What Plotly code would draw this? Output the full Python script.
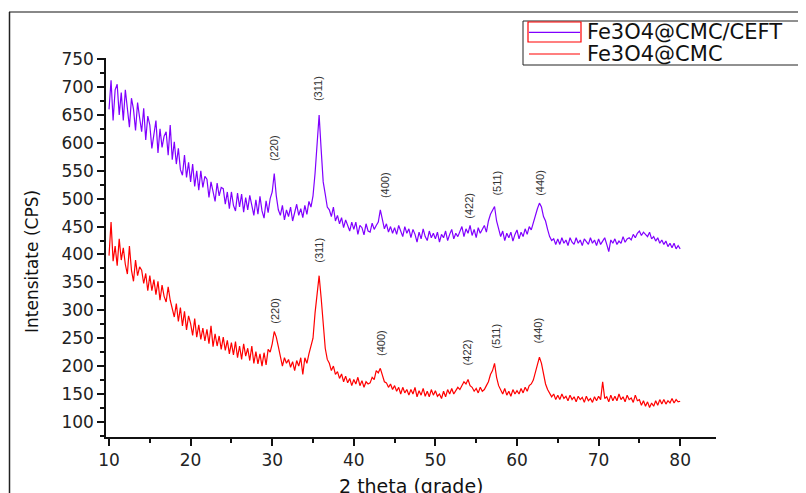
import plotly.graph_objects as go

# 2-theta grid (0.25 deg steps, 10..80)
two_theta = [round(10 + 0.25 * i, 2) for i in range(281)]

# Fe3O4@CMC/CEFT intensities (CPS)
cmc_ceft = [
    660, 712, 640, 695, 705, 650, 690, 640, 695, 662, 628, 680, 660, 622, 672, 645,
    620, 662, 605, 648, 632, 590, 615, 640, 582, 625, 592, 612, 620, 578, 632, 570,
    602, 562, 590, 552, 542, 578, 538, 565, 530, 562, 522, 550, 515, 550, 520, 540,
    535, 502, 530, 512, 495, 528, 505, 520, 518, 490, 512, 482, 512, 488, 478, 510,
    485, 508, 476, 502, 480, 506, 484, 470, 498, 472, 504, 478, 465, 496, 475, 500,
    512, 545, 505, 480, 470, 488, 462, 480, 468, 485, 460, 478, 490, 470, 482, 466,
    488, 472, 495, 485, 505, 545, 605, 650, 588, 530, 508, 485, 480, 468, 485, 460,
    470, 455, 466, 448, 462, 450, 442, 458, 445, 458, 436, 452, 448, 435, 455, 442,
    440, 456, 445, 452, 458, 480, 462, 446, 455, 440, 450, 438, 448, 436, 452, 440,
    432, 450, 438, 446, 430, 445, 436, 422, 440, 428, 446, 432, 425, 442, 430, 438,
    428, 440, 422, 436, 430, 442, 425, 436, 445, 428, 438, 432, 440, 450, 432, 446,
    438, 452, 434, 445, 430, 448, 438, 444, 452, 440, 460, 472, 480, 486, 460, 446,
    432, 442, 425, 438, 430, 440, 424, 436, 444, 428, 440, 432, 446, 436, 450, 444,
    458, 472, 482, 492, 485, 468, 460, 445, 432, 425, 428, 418, 428, 418, 430, 420,
    426, 416, 430, 422, 418, 430, 420, 426, 416, 428, 422, 418, 430, 420, 426, 416,
    428, 418, 424, 430, 418, 405, 426, 420, 428, 418, 424, 420, 432, 422, 428, 430,
    426, 436, 430, 438, 442, 434, 440, 436, 432, 440, 428, 432, 424, 430, 420, 426,
    418, 424, 414, 420, 412, 420, 410, 416, 410,
]

# Fe3O4@CMC intensities (CPS)
cmc = [
    398, 458, 388, 415, 380, 428, 390, 412, 382, 365, 415, 372, 352, 390, 362, 378,
    372, 348, 366, 335, 362, 335, 355, 328, 352, 318, 345, 325, 315, 342, 318, 300,
    288, 312, 280, 305, 272, 298, 265, 290, 276, 255, 285, 252, 274, 248, 268, 245,
    266, 240, 272, 235, 258, 236, 254, 230, 252, 228, 246, 222, 242, 220, 244, 215,
    236, 212, 240, 218, 232, 210, 236, 205, 226, 204, 222, 200, 224, 202, 230, 225,
    240, 262, 252, 235, 218, 200, 215, 205, 212, 198, 208, 192, 210, 200, 215, 185,
    215, 205, 222, 238, 250, 295, 335, 362, 322, 272, 232, 212, 205, 192, 200, 185,
    190, 178, 186, 172, 182, 170, 178, 165, 176, 168, 180, 165, 174, 162, 172, 168,
    170, 180, 176, 192, 188, 196, 182, 172, 170, 162, 168, 158, 165, 155, 162, 150,
    162, 152, 158, 148, 158, 150, 162, 145, 156, 148, 160, 146, 155, 145, 158, 148,
    156, 146, 150, 142, 155, 145, 158, 150, 160, 150, 156, 162, 158, 165, 172, 168,
    176, 165, 162, 155, 160, 152, 162, 155, 158, 165, 172, 185, 192, 205, 180, 165,
    158, 150, 160, 148, 155, 146, 158, 150, 156, 150, 160, 152, 162, 155, 165, 168,
    175, 190, 205, 216, 205, 185, 168, 158, 152, 145, 150, 140, 148, 140, 150, 142,
    146, 138, 148, 140, 145, 136, 146, 140, 144, 135, 146, 138, 142, 135, 145, 138,
    146, 140, 172, 142, 145, 136, 148, 138, 146, 138, 150, 140, 145, 136, 148, 140,
    143, 135, 148, 138, 140, 130, 138, 128, 136, 126, 134, 128, 138, 130, 140, 132,
    140, 132, 138, 134, 142, 134, 140, 136, 137,
]

series_names = ["Fe3O4@CMC/CEFT", "Fe3O4@CMC"]
peak_labels = ["(220)", "(311)", "(400)", "(422)", "(511)", "(440)"]
ceft_label_x = [30.3, 35.6, 43.8, 54.1, 57.5, 62.8]
ceft_label_y = [590, 698, 524, 487, 528, 528]
cmc_label_x = [30.4, 35.7, 43.3, 53.9, 57.4, 62.6]
cmc_label_y = [300, 408, 241, 225, 254, 264]

x_ticks = [10, 20, 30, 40, 50, 60, 70, 80]
y_ticks = [100, 150, 200, 250, 300, 350, 400, 450, 500, 550, 600, 650, 700, 750]

PURPLE = "#8000FF"
RED = "#FF0000"

W, H = 806, 493
OFF = 8  # page body margin offset
L, T = 106 - OFF, 58 - OFF
PW, PH = 610, 379
R = W - L - PW
B = H - T - PH


def px(xp):
    return (xp - OFF - L) / PW


def py(yp):
    return (T + PH - (yp - OFF)) / PH


fig = go.Figure()
fig.add_trace(go.Scatter(x=two_theta, y=cmc_ceft, mode="lines",
                         line=dict(color=PURPLE, width=1.2), name=series_names[0]))
fig.add_trace(go.Scatter(x=two_theta, y=cmc, mode="lines",
                         line=dict(color=RED, width=1.2), name=series_names[1]))

lab_font = dict(family="Liberation Sans", size=11, color="#333333")
annotations = []
for lab, xx, yy in zip(peak_labels, ceft_label_x, ceft_label_y):
    annotations.append(dict(x=xx, y=yy, xref="x", yref="y", text=lab, textangle=-90,
                            showarrow=False, font=lab_font))
for lab, xx, yy in zip(peak_labels, cmc_label_x, cmc_label_y):
    annotations.append(dict(x=xx, y=yy, xref="x", yref="y", text=lab, textangle=-90,
                            showarrow=False, font=lab_font))

# axis titles
annotations.append(dict(x=px(411), y=py(486), xref="paper", yref="paper", text="2 theta (grade)",
                        showarrow=False, xanchor="center", yanchor="middle",
                        font=dict(family="DejaVu Sans", size=19, color="#111111")))
annotations.append(dict(x=px(32), y=py(262), xref="paper", yref="paper", text="Intensitate (CPS)",
                        textangle=-90, showarrow=False, xanchor="center", yanchor="middle",
                        font=dict(family="DejaVu Sans", size=17, color="#111111")))
# legend texts
leg_font = dict(family="DejaVu Sans", size=21, color="#111111")
annotations.append(dict(x=px(585), y=py(32), xref="paper", yref="paper", text=series_names[0],
                        showarrow=False, xanchor="left", yanchor="middle", font=leg_font))
annotations.append(dict(x=px(585), y=py(54), xref="paper", yref="paper", text=series_names[1],
                        showarrow=False, xanchor="left", yanchor="middle", font=leg_font))

shapes = [
    # outer frame
    dict(type="line", xref="paper", yref="paper", x0=px(9), x1=px(830), y0=py(12), y1=py(12),
         line=dict(color="#888888", width=2)),
    dict(type="line", xref="paper", yref="paper", x0=px(9.5), x1=px(9.5), y0=py(12), y1=py(520),
         line=dict(color="#222222", width=1.5)),
    # legend box
    dict(type="rect", xref="paper", yref="paper", x0=px(523), x1=px(830), y0=py(65), y1=py(21),
         line=dict(color="#222222", width=1), fillcolor="white", layer="below"),
    dict(type="rect", xref="paper", yref="paper", x0=px(528), x1=px(581), y0=py(42), y1=py(22),
         line=dict(color=RED, width=1.2)),
    dict(type="line", xref="paper", yref="paper", x0=px(529), x1=px(580), y0=py(32.3), y1=py(32.3),
         line=dict(color=PURPLE, width=1.2)),
    dict(type="line", xref="paper", yref="paper", x0=px(529), x1=px(580), y0=py(54), y1=py(54),
         line=dict(color=RED, width=1.2)),
]

tick_font = dict(family="DejaVu Sans", size=17, color="#222222")
fig.update_layout(
    width=W, height=H,
    margin=dict(l=L, r=R, t=T, b=B),
    paper_bgcolor="white", plot_bgcolor="white",
    showlegend=False,
    annotations=annotations,
    shapes=shapes,
    xaxis=dict(range=[9.63, 84.39], tickvals=x_ticks, ticks="outside", ticklen=7, tickwidth=1.5,
               showline=True, linecolor="#111111", linewidth=1.5, showgrid=False, zeroline=False,
               tickfont=tick_font, tickcolor="#111111",
               minor=dict(ticks="outside", ticklen=4, dtick=5, tick0=0, tickwidth=1.5, tickcolor="#111111")),
    yaxis=dict(range=[73, 752], tickvals=y_ticks, ticks="outside", ticklen=7, tickwidth=1.5,
               showline=True, linecolor="#111111", linewidth=1.5, showgrid=False, zeroline=False,
               tickfont=tick_font, tickcolor="#111111",
               minor=dict(ticks="outside", ticklen=4, dtick=25, tick0=0, tickwidth=1.5, tickcolor="#111111")),
)

fig.write_html("out.html")
